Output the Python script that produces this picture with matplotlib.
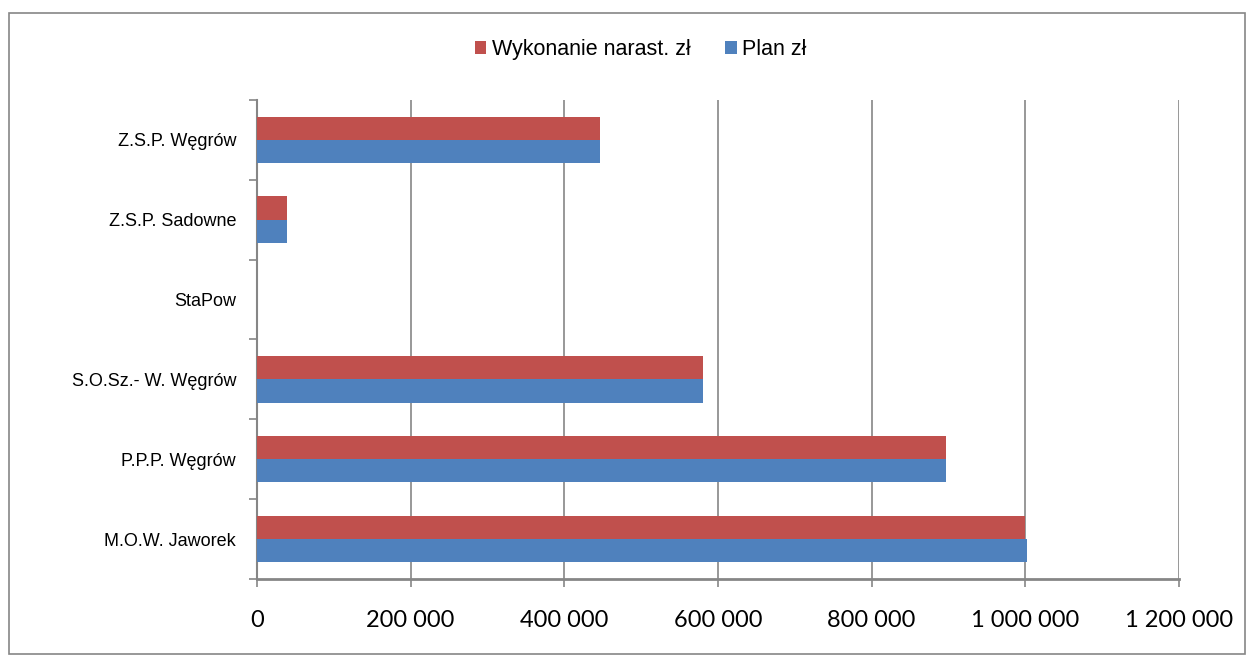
import matplotlib.pyplot as plt
import numpy as np
from matplotlib.patches import Rectangle

categories = ["M.O.W. Jaworek", "P.P.P. Węgrów", "S.O.Sz.- W. Węgrów",
              "StaPow", "Z.S.P. Sadowne", "Z.S.P. Węgrów"]
plan = [1002000, 897000, 581000, 0, 39500, 446500]
wykonanie = [999500, 897000, 581000, 0, 39500, 446500]
xticks = [0, 200000, 400000, 600000, 800000, 1000000, 1200000]
xtick_labels = ["0", "200 000", "400 000", "600 000", "800 000", "1 000 000", "1 200 000"]

RED = "#C0504D"
BLUE = "#4F81BD"
GRID = "#868686"

plt.rcParams["font.family"] = ["Liberation Sans", "DejaVu Sans"]

fig = plt.figure(figsize=(12.51, 6.57), dpi=100)
ax = fig.add_axes([0.2054, 0.1187, 0.737, 0.7293])

# outer chart border
fig.patches.append(Rectangle((0.007, 0.005), 0.988, 0.975, transform=fig.transFigure,
                             fill=False, edgecolor=GRID, linewidth=1.2))

y = np.arange(len(categories))
h = 0.29
ax.barh(y + h / 2, wykonanie, height=h, color=RED, label="Wykonanie narast. zł", zorder=3)
ax.barh(y - h / 2, plan, height=h, color=BLUE, label="Plan zł", zorder=3)

ax.set_xlim(0, 1200000)
ax.set_ylim(-0.5, len(categories) - 0.5)
ax.set_xticks(xticks)
ax.set_xticklabels(xtick_labels, fontsize=17, family=["Lato", "DejaVu Sans"])
ax.set_yticks(y)
ax.set_yticklabels(categories, fontsize=13)
ax.tick_params(axis="y", length=0, pad=15)
ax.set_yticks(np.arange(-0.5, len(categories)), minor=True)
ax.tick_params(axis="y", which="minor", length=6, color=GRID, width=1.2)
ax.tick_params(axis="x", length=6, color=GRID, width=1.2, pad=16)
ax.grid(axis="x", color=GRID, linewidth=1.2, zorder=0)

for side in ["top", "right"]:
    ax.spines[side].set_visible(False)
ax.spines["left"].set_color(GRID)
ax.spines["left"].set_linewidth(1.5)
ax.spines["bottom"].set_color(GRID)
ax.spines["bottom"].set_linewidth(2)

fig.legend(loc="center", bbox_to_anchor=(0.512, 0.924), ncol=2, frameon=False,
           fontsize=15.5, handlelength=0.55, handleheight=0.55, handletextpad=0.25,
           columnspacing=1.6)

fig.savefig("out.png", dpi=100)
